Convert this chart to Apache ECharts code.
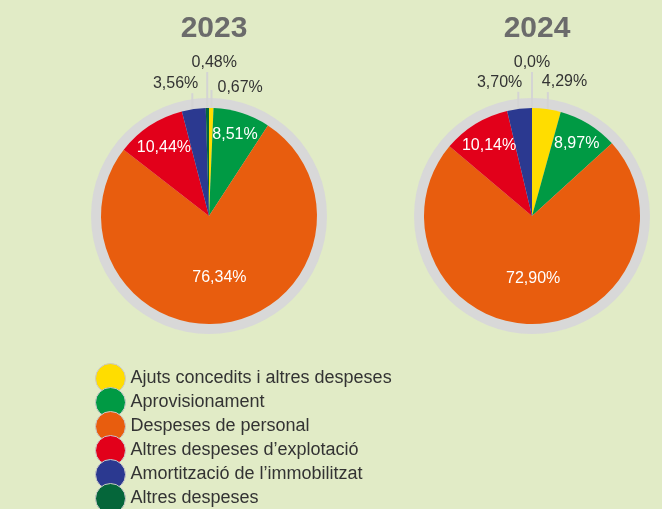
<!DOCTYPE html>
<html>
<head>
<meta charset="utf-8">
<script src="https://cdn.jsdelivr.net/npm/echarts@6/dist/echarts.min.js"></script>
<style>
  html, body { margin: 0; padding: 0; background: #e1ebc6; }
  #main { width: 662px; height: 509px; }
</style>
</head>
<body>
<div id="main"></div>
<script>
// data
const categories = [
  'Ajuts concedits i altres despeses',
  'Aprovisionament',
  'Despeses de personal',
  'Altres despeses d’explotació',
  'Amortització de l’immobilitzat',
  'Altres despeses'
]
const years = ['2023', '2024']
const values2023 = [0.67, 8.51, 76.34, 10.44, 3.56, 0.48]
const values2024 = [4.29, 8.97, 72.90, 10.14, 3.70, 0.0]
const colors = ['#ffdd00', '#009a44', '#e85d0e', '#e2001a', '#2b3990', '#05663a']

// which slices carry their label inside, and how far out (fraction of radius)
const innerRatio = [null, 0.79, 0.58, 0.76, null, null]

// small outside labels: leader length above the ring, label shift from line top
const outerTweaks = [
  { 0: { len: 8, dx: 6, dy: -2, align: 'left' },
    4: { len: 6, dx: 6, dy: -10, align: 'right' },
    5: { len: 26, dx: 7, dy: -9, align: 'center' } },
  { 0: { len: 7, dx: -6, dy: -10, align: 'left' },
    4: { len: 7, dx: 4, dy: -9, align: 'right' },
    5: { len: 26, dx: 0, dy: -9, align: 'center' } }
]

const FONT = 'Liberation Sans'
const pieR = 108
const ringR = 118
const centers = [[209, 216], [532, 216]]

var chart = echarts.init(document.getElementById('main'))

const fmt = v => (v === 0 ? '0,0' : v.toFixed(2).replace('.', ',')) + '%'

function buildData(values) {
  return values.map((v, i) => ({
    name: categories[i],
    value: v,
    label: innerRatio[i] != null
      ? { position: 'inside', color: '#fff' }
      : { position: 'outside', color: '#333' },
    labelLine: { show: innerRatio[i] == null }
  }))
}

function makeLayout(k) {
  return function (p) {
    const lay = chart.getModel().getSeriesByIndex(p.seriesIndex).getData().getItemLayout(p.dataIndex)
    const mid = (lay.startAngle + lay.endAngle) / 2
    const cx = lay.cx, cy = lay.cy
    const ratio = innerRatio[p.dataIndex]
    if (ratio != null) {
      return {
        x: cx + lay.r * ratio * Math.cos(mid),
        y: cy + lay.r * ratio * Math.sin(mid),
        align: 'center', verticalAlign: 'middle'
      }
    }
    const t = outerTweaks[k][p.dataIndex]
    const lx = cx + ringR * Math.cos(mid)
    const ox = lx - cx
    const ey = cy - Math.sqrt(Math.max(lay.r * lay.r - ox * ox, 0))
    const ty = cy - Math.sqrt(Math.max(ringR * ringR - ox * ox, 0)) - t.len
    return {
      x: lx + t.dx,
      y: ty + t.dy,
      align: t.align,
      verticalAlign: 'middle',
      labelLinePoints: [[lx, ey], [lx, ty], [lx, ty]]
    }
  }
}

const ringSeries = centers.map(c => ({
  type: 'pie',
  silent: true,
  z: 1,
  center: c,
  radius: ringR,
  label: { show: false },
  labelLine: { show: false },
  itemStyle: { color: '#d8d8d8' },
  data: [{ value: 1, name: 'ring' }]
}))

const dataSeries = [values2023, values2024].map((vals, k) => ({
  type: 'pie',
  name: years[k],
  z: 2,
  center: centers[k],
  radius: pieR,
  startAngle: 90,
  clockwise: true,
  avoidLabelOverlap: false,
  label: {
    show: true,
    fontFamily: FONT,
    fontSize: 16,
    formatter: p => fmt(p.value)
  },
  labelLine: {
    length: 10,
    length2: 0,
    smooth: false,
    lineStyle: { color: '#d4d4d4', width: 2 }
  },
  labelLayout: makeLayout(k),
  itemStyle: { borderWidth: 0 },
  emphasis: { disabled: true },
  data: buildData(vals)
}))

var option = {
  animation: false,
  backgroundColor: '#e1ebc6',
  color: colors,
  title: years.map((y, k) => ({
    text: y,
    left: centers[k][0],
    top: 9,
    textAlign: 'center',
    textStyle: { fontFamily: FONT, fontSize: 30, fontWeight: 'bold', color: '#6b6b6b' }
  })),
  legend: {
    data: categories,
    orient: 'vertical',
    left: 90,
    top: 358,
    height: 200,
    itemWidth: 30,
    itemHeight: 30,
    itemGap: -7,
    icon: 'circle',
    selectedMode: false,
    itemStyle: { borderColor: '#c9c9c9', borderWidth: 1 },
    textStyle: { fontFamily: FONT, fontSize: 18, color: '#333', padding: [0, 0, 0, 0] }
  },
  series: ringSeries.concat(dataSeries)
}

option && chart.setOption(option)
</script>
</body>
</html>
